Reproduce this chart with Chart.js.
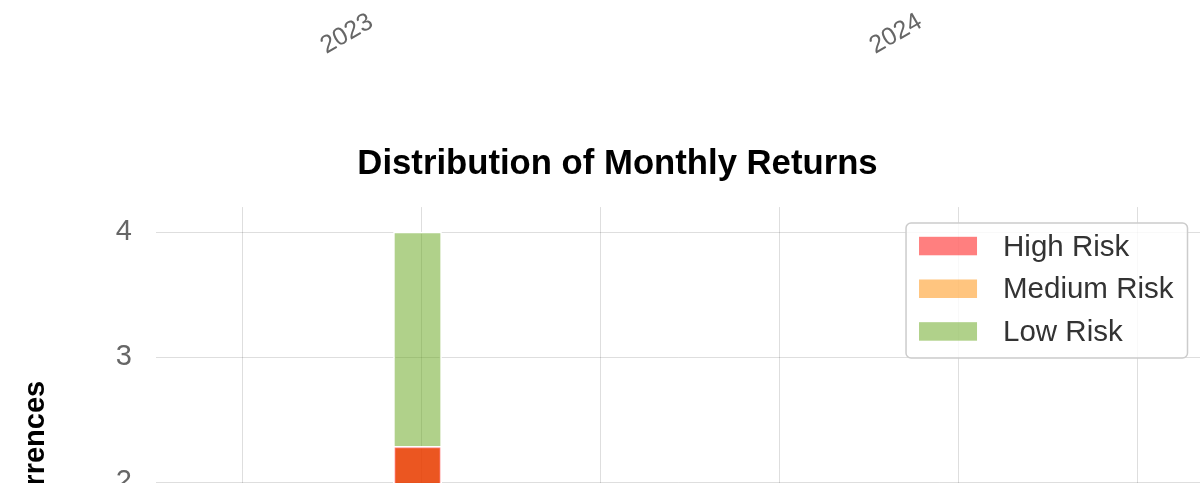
<!DOCTYPE html>
<html>
<head>
<meta charset="utf-8">
<script src="https://cdn.jsdelivr.net/npm/chart.js@4.4.1/dist/chart.umd.min.js"></script>
<style>
  html, body { margin: 0; padding: 0; background: #ffffff; width: 1200px; height: 483px; overflow: hidden; }
  #w1 { position: absolute; left: 0; top: -186px; width: 1235px; height: 250px; }
  #w2 { position: absolute; left: 0; top: 130px; width: 1235px; height: 644px; }
</style>
</head>
<body>
<div id="w1"><canvas id="c1"></canvas></div>
<div id="w2"><canvas id="c2"></canvas></div>
<script>
// ---- data ----
const yearTicks = [2023, 2024];                 // top (previous chart) x-axis labels
const binCenters = [-2.05];                      // histogram bin centre (monthly return, %)
const highRisk = [2.285];
const mediumRisk = [2.285];
const lowRisk = [4];
const seriesNames = ['High Risk', 'Medium Risk', 'Low Risk'];
const xTickValues = [-4, -2, 0, 2, 4, 6];
const yTickValues = [0, 1, 2, 3, 4];
const chartTitle = 'Distribution of Monthly Returns';
const yAxisTitle = 'Occurrences';

const FONT = "'Liberation Sans', Arial, Helvetica, sans-serif";
Chart.defaults.font.family = FONT;
Chart.defaults.color = '#666666';
Chart.defaults.animation = false;

const GRID = 'rgba(0,0,0,0.13)';

// ---- top chart: only its rotated year axis is in view ----
new Chart(document.getElementById('c1'), {
  type: 'line',
  data: { datasets: [] },
  options: {
    responsive: true,
    maintainAspectRatio: false,
    layout: { padding: { left: 156, right: 34, top: 0, bottom: 0 } },
    plugins: { legend: { display: false }, tooltip: { enabled: false } },
    scales: {
      x: {
        type: 'linear',
        min: 2022.6084,
        max: 2024.5118,
        grid: { display: false, drawTicks: false },
        border: { display: false },
        afterBuildTicks: s => { s.ticks = yearTicks.map(v => ({ value: v })); },
        ticks: {
          minRotation: 30, maxRotation: 30, padding: 3,
          font: { size: 25 }, color: '#666666',
          callback: v => String(v)
        }
      },
      y: { display: false }
    }
  }
});

// ---- legend drawn in the upper-right of the plot ----
const boxLegend = {
  id: 'boxLegend',
  afterDatasetsDraw(chart) {
    const ctx = chart.ctx, area = chart.chartArea;
    const fs = 29.5;
    ctx.save();
    ctx.font = fs + 'px ' + FONT;
    const items = chart.data.datasets.map(d => ({ text: d.label, color: d.backgroundColor }));
    const textW = Math.max(...items.map(i => ctx.measureText(i.text).width));
    const padL = 13, sw = 58, sh = 18.5, gap = 26, padR = 14, rowH = 42.7;
    const w = padL + sw + gap + textW + padR;
    const h = 135;
    const x = area.right - 13.5 - w;
    const y = area.top + 16;
    ctx.beginPath();
    ctx.roundRect(x, y, w, h, 5);
    ctx.fillStyle = 'rgba(255,255,255,0.8)';
    ctx.fill();
    ctx.strokeStyle = '#cccccc';
    ctx.lineWidth = 1.5;
    ctx.stroke();
    items.forEach((it, i) => {
      const cy = y + 23 + i * rowH;
      ctx.fillStyle = it.color;
      ctx.fillRect(x + padL, cy - sh / 2, sw, sh);
      ctx.fillStyle = '#333333';
      ctx.textBaseline = 'middle';
      ctx.textAlign = 'left';
      ctx.fillText(it.text, x + padL + sw + gap, cy + 1.5);
    });
    ctx.restore();
  }
};

const colors = ['rgba(255,0,0,0.5)', 'rgba(255,140,0,0.5)', 'rgba(98,163,22,0.5)'];
const seriesData = [highRisk, mediumRisk, lowRisk];

new Chart(document.getElementById('c2'), {
  type: 'bar',
  data: {
    datasets: seriesData.map((vals, k) => ({
      label: seriesNames[k],
      data: binCenters.map((x, i) => ({ x: x, y: vals[i] })),
      backgroundColor: colors[k],
      borderColor: '#ffffff',
      borderWidth: 1.5,
      barThickness: 48,
      grouped: false,
      order: k
    }))
  },
  options: {
    responsive: true,
    maintainAspectRatio: false,
    layout: { padding: { left: 0, right: 0, top: 0, bottom: 42 } },
    plugins: {
      legend: { display: false },
      tooltip: { enabled: false },
      title: {
        display: true,
        text: chartTitle,
        color: '#000000',
        font: { size: 34.7, weight: 'bold' },
        padding: { top: 13.2, bottom: 22.2 }
      }
    },
    scales: {
      x: {
        type: 'linear',
        min: -4.972,
        max: 6.704,
        offset: false,
        grid: { color: GRID, lineWidth: 1, drawTicks: false, offset: false },
        border: { display: false },
        afterBuildTicks: s => { s.ticks = xTickValues.map(v => ({ value: v })); },
        ticks: { display: false },
        afterFit: s => { s.height = 0; }
      },
      y: {
        type: 'linear',
        min: 0,
        max: 4.2,
        grid: { color: GRID, lineWidth: 1, drawTicks: false },
        border: { display: false },
        afterBuildTicks: s => { s.ticks = yTickValues.map(v => ({ value: v })); },
        ticks: { padding: 24, font: { size: 29 }, color: '#666666', callback: v => String(v) },
        title: {
          display: true,
          text: yAxisTitle,
          color: '#000000',
          font: { size: 29, weight: 'bold' },
          padding: { top: 18.6, bottom: 62.6 }
        },
        afterFit: s => { s.width = 156; }
      },
      yR: {
        type: 'linear',
        position: 'right',
        grid: { display: false, drawTicks: false },
        border: { display: false },
        ticks: { display: false },
        afterFit: s => { s.width = 34; }
      }
    }
  },
  plugins: [boxLegend]
});
</script>
</body>
</html>
